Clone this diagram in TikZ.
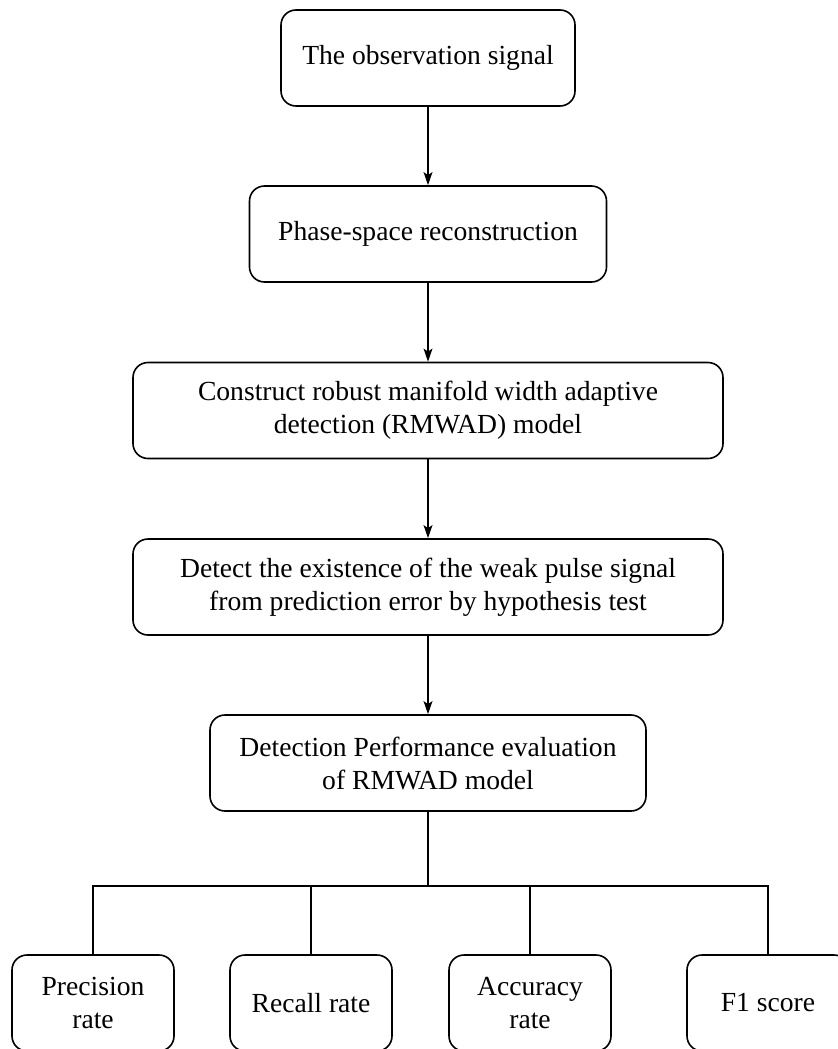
\documentclass[tikz,border=0pt]{standalone}
\usepackage{fontspec}
\setmainfont{Liberation Serif}
\usetikzlibrary{arrows.meta,positioning}
\tikzset{box/.style={draw,rounded corners=7.5pt,align=center,font=\fontsize{13.8}{16.5}\selectfont,line width=0.8pt,minimum height=48pt,inner sep=4pt},leaf/.style={box,minimum width=81pt},arr/.style={-{Stealth[length=6.5pt,width=4.4pt,inset=1.4pt]},line width=0.8pt},wire/.style={line width=0.8pt}}

\begin{document}
\begin{tikzpicture}[x=0.5pt,y=-0.5pt]
\useasboundingbox (0,0) rectangle (838,1049);
\node[box,minimum width=147pt] (obs) at (428,58) {The observation signal};
\node[box,minimum width=178.5pt] (psr) at (428,234) {Phase-space reconstruction};
\node[box,minimum width=295pt] (model) at (428,410.5) {Construct robust manifold width adaptive\\detection (RMWAD) model};
\node[box,minimum width=295pt] (test) at (428,587) {Detect the existence of the weak pulse signal\\from prediction error by hypothesis test};
\node[box,minimum width=218pt] (eval) at (428,763) {Detection Performance evaluation\\of RMWAD model};
\coordinate (bus) at (428,886);
\node[leaf] (prec) at (93,1003) {Precision\\rate};
\node[leaf] (rec) at (311,1003) {Recall rate};
\node[leaf] (acc) at (530,1003) {Accuracy\\rate};
\node[leaf] (fone) at (768,1003) {F1 score};
\draw[arr] (obs) -- (psr);
\draw[arr] (psr) -- (model);
\draw[arr] (model) -- (test);
\draw[arr] (test) -- (eval);
\draw[wire] (eval) -- (bus);
\draw[wire] (prec.north) |- (bus) -| (fone.north);
\draw[wire] (rec.north) -- (rec.north |- bus);
\draw[wire] (acc.north) -- (acc.north |- bus);
\end{tikzpicture}
\end{document}
